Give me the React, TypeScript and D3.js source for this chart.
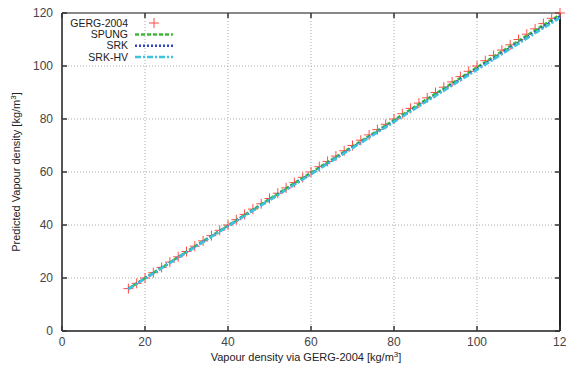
import React from 'react';
import * as d3 from 'd3';

// GERG-2004 reference points (x = GERG density, y = same value)
const gergX = [16, 18, 20, 22, 24, 26, 28, 30, 32, 34, 36, 38, 40, 42, 44, 46, 48, 50, 52, 54, 56, 58, 60, 62, 64, 66, 68, 70, 72, 74, 76, 78, 80, 82, 84, 86, 88, 90, 92, 94, 96, 98, 100, 102, 104, 106, 108, 110, 112, 114, 116, 118, 120];
const gergY = [16, 18, 20, 22, 24, 26, 28, 30, 32, 34, 36, 38, 40, 42, 44, 46, 48, 50, 52, 54, 56, 58, 60, 62, 64, 66, 68, 70, 72, 74, 76, 78, 80, 82, 84, 86, 88, 90, 92, 94, 96, 98, 100, 102, 104, 106, 108, 110, 112, 114, 116, 118, 120];

// model predictions
const lineX = [16, 24, 32, 40, 48, 56, 64, 72, 80, 88, 96, 104, 112, 120];
const spung = [16, 23.9, 31.9, 39.8, 47.8, 55.8, 63.7, 71.6, 79.6, 87.6, 95.5, 103.5, 111.5, 119.4];
const srk = [15.9, 23.8, 31.7, 39.6, 47.5, 55.4, 63.3, 71.2, 79.1, 87.0, 95.0, 102.9, 110.8, 118.8];
const srkHv = [15.8, 23.7, 31.6, 39.5, 47.4, 55.2, 63.1, 71.0, 78.9, 86.8, 94.6, 102.5, 110.4, 118.2];

const xTicks = [0, 20, 40, 60, 80, 100, 120];
const yTicks = [0, 20, 40, 60, 80, 100, 120];

const series = [
  { name: 'SPUNG', values: spung, color: '#3fb83a', dash: '4,2' },
  { name: 'SRK', values: srk, color: '#3344c4', dash: '2,2' },
  { name: 'SRK-HV', values: srkHv, color: '#3cc4de', dash: '6,2,2,2' },
];

const W = 566;
const H = 366;
const margin = { top: 13, right: 6, bottom: 35, left: 62 };

export default function App() {
  const x = d3.scaleLinear().domain([0, 120]).range([margin.left, W - margin.right]);
  const y = d3.scaleLinear().domain([0, 120]).range([H - margin.bottom, margin.top]);
  const x0 = x(0), x1 = x(120), y0 = y(0), y1 = y(120);

  const line = d3.line<number>()
    .x((_, i) => x(lineX[i]))
    .y(d => y(d));

  const font = 'Liberation Sans, Arial, sans-serif';
  const cs = 5;

  return (
    <svg width={W} height={H} style={{ position: 'absolute', left: 0, top: 0, background: '#fff' }} fontFamily={font}>
      {/* grid */}
      {xTicks.filter(t => t > 0 && t < 120).map(t => (
        <line key={'gx' + t} x1={x(t)} x2={x(t)} y1={y0} y2={y1} stroke="#aaa" strokeWidth={1} strokeDasharray="1,2" />
      ))}
      {yTicks.filter(t => t > 0 && t < 120).map(t => (
        <line key={'gy' + t} x1={x0} x2={x1} y1={y(t)} y2={y(t)} stroke="#aaa" strokeWidth={1} strokeDasharray="1,2" />
      ))}

      {/* frame */}
      <line x1={x0} x2={x1} y1={y1} y2={y1} stroke="#888" strokeWidth={2} />
      <line x1={x1} x2={x1} y1={y1} y2={y0} stroke="#222" strokeWidth={2} />
      <line x1={x0} x2={x0} y1={y1} y2={y0} stroke="#555" strokeWidth={2} />
      <line x1={x0} x2={x1} y1={y0} y2={y0} stroke="#555" strokeWidth={2} />

      {/* inside ticks */}
      {xTicks.map(t => (
        <g key={'tx' + t}>
          <line x1={x(t)} x2={x(t)} y1={y0} y2={y0 - 5} stroke="#333" strokeWidth={1.5} />
          <line x1={x(t)} x2={x(t)} y1={y1} y2={y1 + 5} stroke="#333" strokeWidth={1.5} />
          <text x={x(t) + (t === 120 ? 3 : 0)} y={y0 + 15} textAnchor="middle" fontSize={12} fill="#444">{t}</text>
        </g>
      ))}
      {yTicks.map(t => (
        <g key={'ty' + t}>
          <line x1={x0} x2={x0 + 5} y1={y(t)} y2={y(t)} stroke="#333" strokeWidth={1.5} />
          <line x1={x1} x2={x1 - 5} y1={y(t)} y2={y(t)} stroke="#333" strokeWidth={1.5} />
          <text x={x0 - 9} y={y(t) + 4} textAnchor="end" fontSize={12} fill="#444">{t}</text>
        </g>
      ))}

      {/* GERG crosses */}
      {gergX.map((v, i) => (
        <path key={'p' + i}
          d={`M${x(v) - cs},${y(gergY[i])}h${2 * cs}M${x(v)},${y(gergY[i]) - cs}v${2 * cs}`}
          stroke="#ff4a4a" strokeWidth={1} fill="none" />
      ))}

      {/* model lines */}
      {series.map(s => (
        <path key={s.name} d={line(s.values) || ''} fill="none" stroke={s.color} strokeWidth={2.5} strokeDasharray={s.dash} />
      ))}

      {/* legend */}
      <g fontSize={10.5} fill="#222">
        <text x={128} y={26.5} textAnchor="end">GERG-2004</text>
        <path d={`M${154 - cs},23h${2 * cs}M154,${23 - cs}v${2 * cs}`} stroke="#ff4a4a" strokeWidth={1} fill="none" />
        {series.map((s, i) => (
          <g key={'lg' + s.name}>
            <text x={128} y={38 + i * 11.3} textAnchor="end">{s.name}</text>
            <line x1={135} x2={173} y1={34.5 + i * 11.3} y2={34.5 + i * 11.3} stroke={s.color} strokeWidth={2.5} strokeDasharray={s.dash} />
          </g>
        ))}
      </g>

      {/* axis titles */}
      <text x={306} y={361} textAnchor="middle" fontSize={11} fill="#222">
        Vapour density via GERG-2004 [kg/m<tspan dy={-4} fontSize={8}>3</tspan><tspan dy={4}>]</tspan>
      </text>
      <text transform={`translate(20,${(y0 + y1) / 2}) rotate(-90)`} textAnchor="middle" fontSize={11} fill="#222">
        Predicted Vapour density [kg/m<tspan dy={-4} fontSize={8}>3</tspan><tspan dy={4}>]</tspan>
      </text>
    </svg>
  );
}
